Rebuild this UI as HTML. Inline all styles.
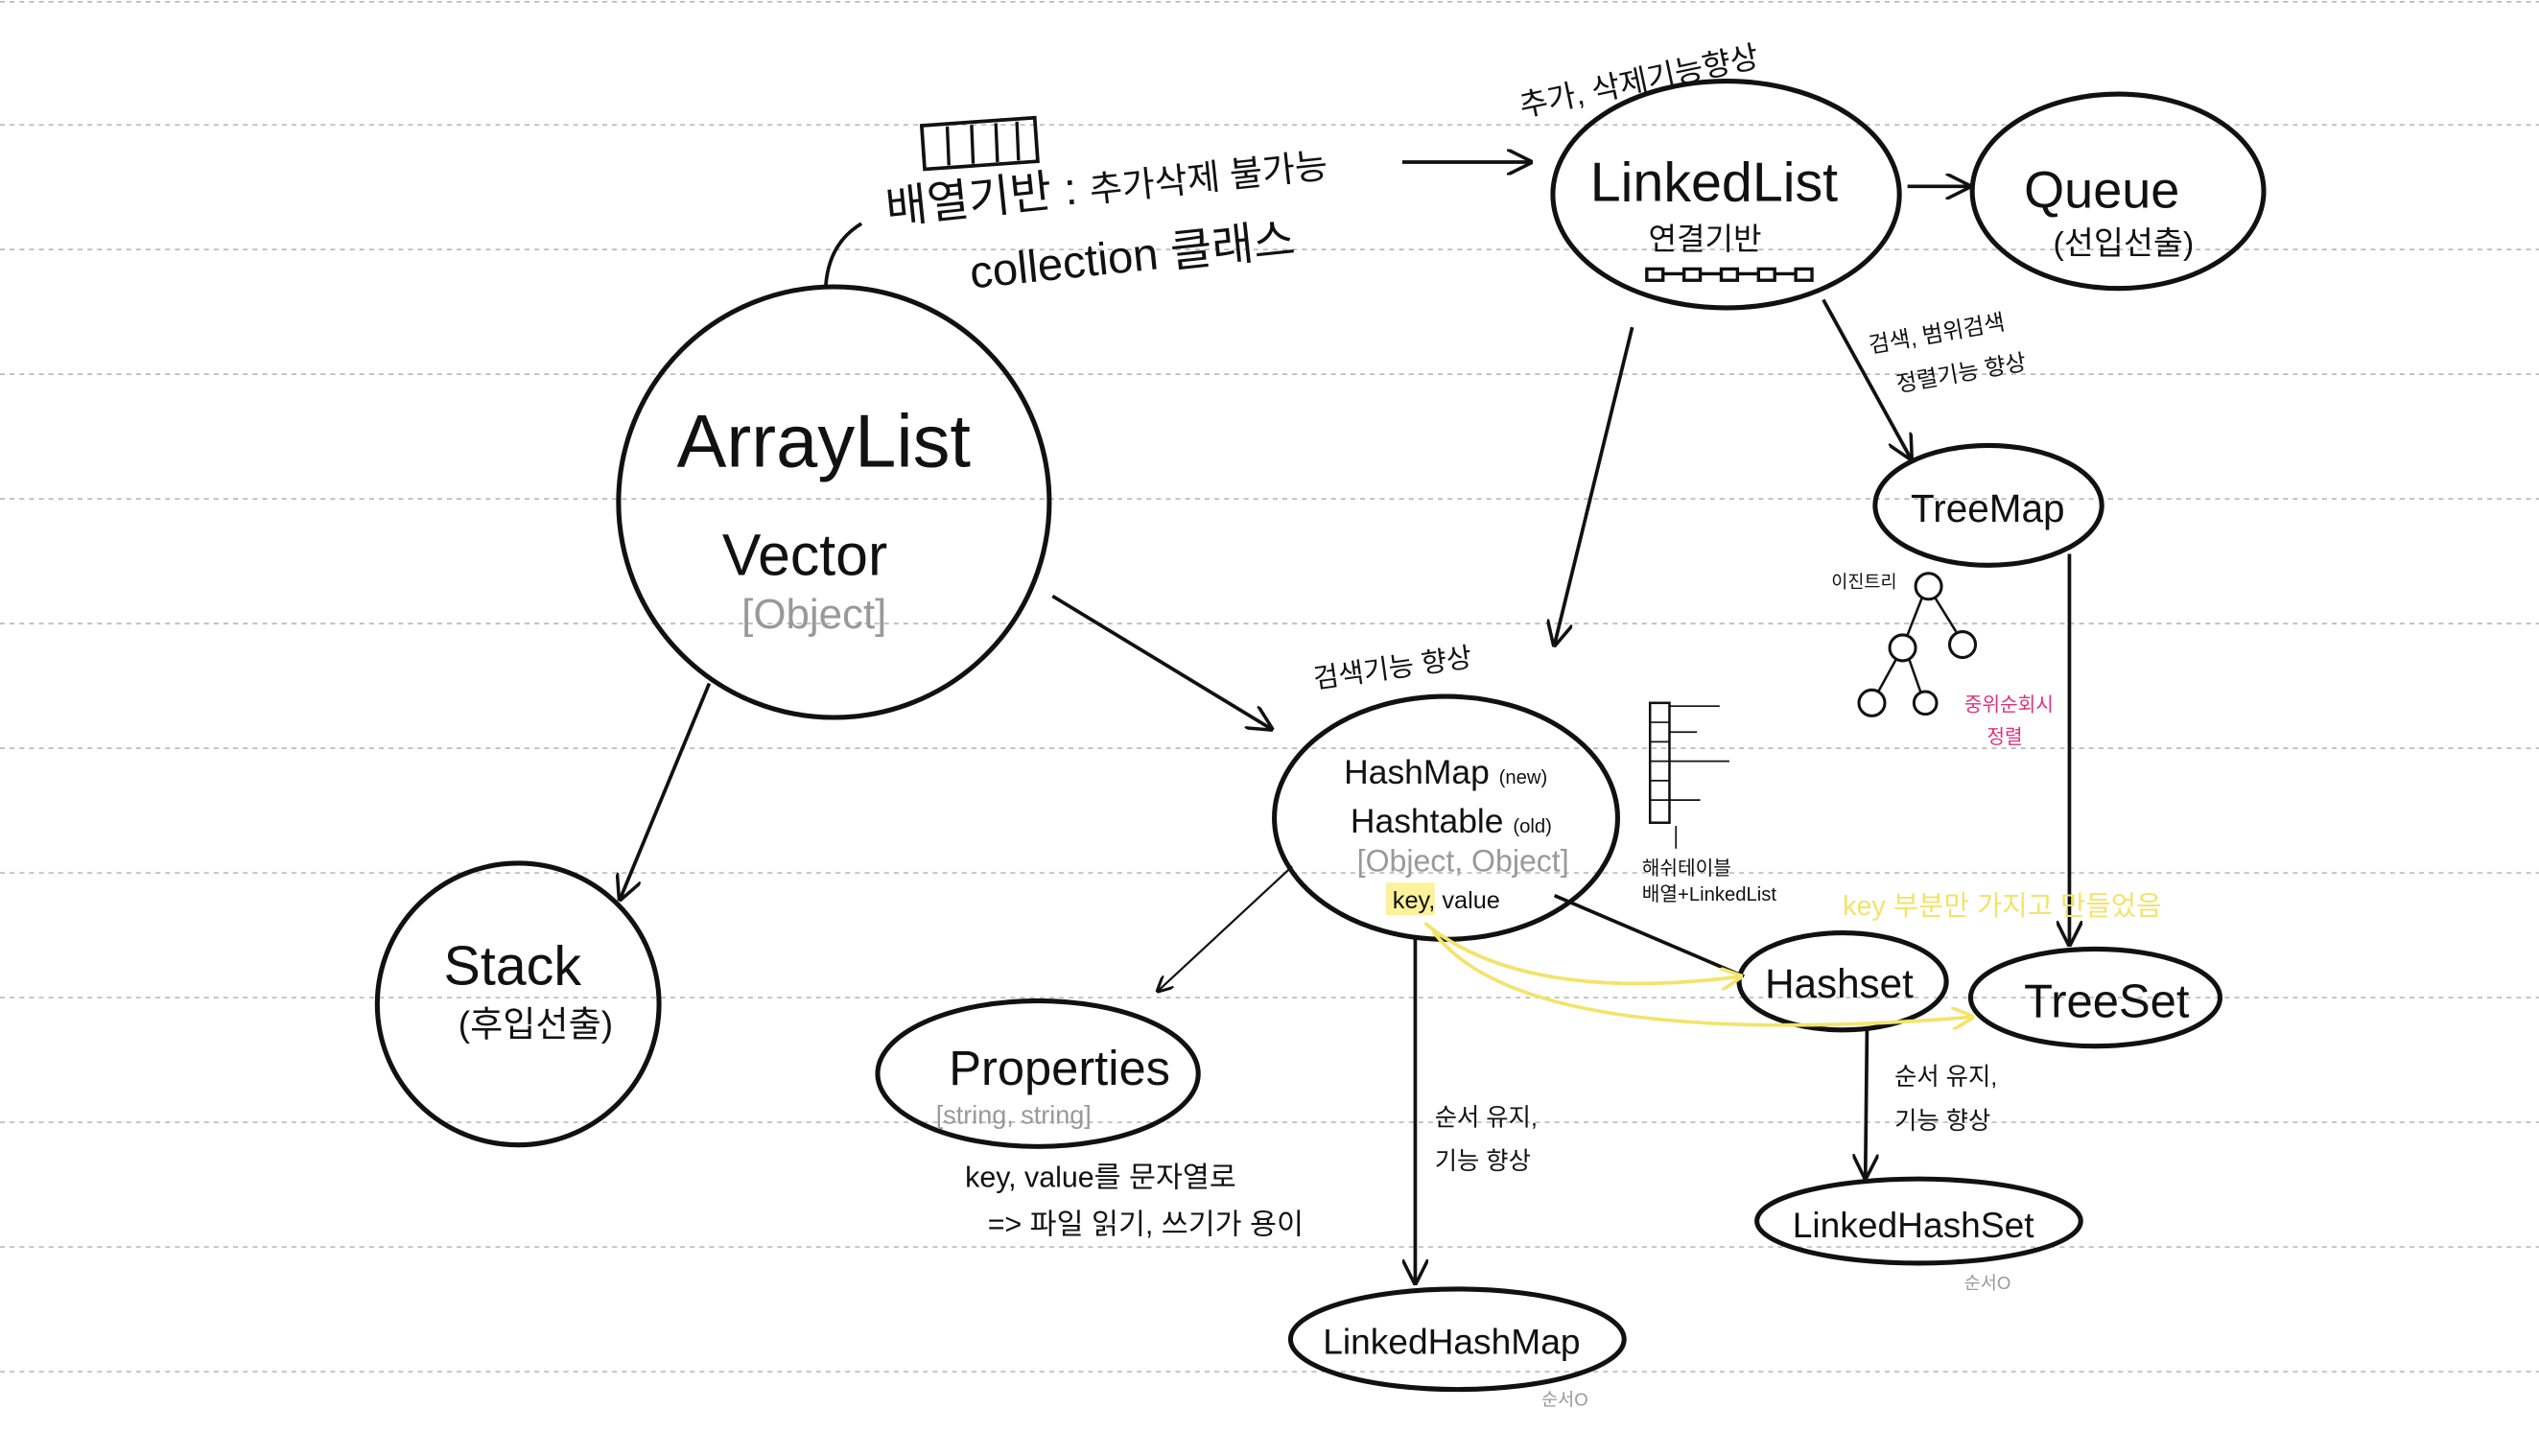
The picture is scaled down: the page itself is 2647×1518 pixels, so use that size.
<!DOCTYPE html>
<html><head><meta charset="utf-8"><style>
html,body{margin:0;padding:0;background:#fff;}
svg{display:block;}
text{font-family:"Liberation Sans","Noto Sans CJK KR",sans-serif;fill:#111;}
</style></head><body>
<svg width="2647" height="1518" viewBox="0 0 1568 899" xmlns="http://www.w3.org/2000/svg">
<defs>
<marker id="a" viewBox="0 0 10 10" refX="9" refY="5" markerWidth="10" markerHeight="10" orient="auto-start-reverse" markerUnits="userSpaceOnUse"><path d="M0,0 L10,5 L0,10" fill="none" stroke="#111" stroke-width="1.8"/></marker>
<marker id="b" viewBox="0 0 10 10" refX="9" refY="5" markerWidth="16" markerHeight="16" orient="auto" markerUnits="userSpaceOnUse"><path d="M0,0 L10,5 L0,10" fill="none" stroke="#111" stroke-width="1.3"/></marker>
<marker id="y" viewBox="0 0 10 10" refX="9" refY="5" markerWidth="14" markerHeight="14" orient="auto" markerUnits="userSpaceOnUse"><path d="M0,0 L10,5 L0,10" fill="none" stroke="#f3e36a" stroke-width="1.5"/></marker>
</defs>
<g stroke="#bbb" stroke-width="1" stroke-dasharray="3,3">
<line x1="0" y1="1" x2="1568" y2="1"/><line x1="0" y1="77" x2="1568" y2="77"/><line x1="0" y1="154" x2="1568" y2="154"/><line x1="0" y1="231" x2="1568" y2="231"/><line x1="0" y1="308" x2="1568" y2="308"/><line x1="0" y1="385" x2="1568" y2="385"/><line x1="0" y1="462" x2="1568" y2="462"/><line x1="0" y1="539" x2="1568" y2="539"/><line x1="0" y1="616" x2="1568" y2="616"/><line x1="0" y1="693" x2="1568" y2="693"/><line x1="0" y1="770" x2="1568" y2="770"/><line x1="0" y1="847" x2="1568" y2="847"/>
</g>
<g fill="none" stroke="#111" stroke-width="3">
<circle cx="515" cy="310" r="133"/>
<circle cx="320" cy="620" r="87"/>
<ellipse cx="1066" cy="120" rx="107" ry="70"/>
<ellipse cx="1308" cy="118" rx="90" ry="60"/>
<ellipse cx="1228" cy="312" rx="70" ry="37"/>
<ellipse cx="893" cy="505" rx="106" ry="75"/>
<ellipse cx="641" cy="663" rx="99" ry="45"/>
<ellipse cx="1138" cy="606" rx="64" ry="30"/>
<ellipse cx="1294" cy="616" rx="77" ry="30"/>
<ellipse cx="1185" cy="754" rx="100" ry="26"/>
<ellipse cx="900" cy="827" rx="103" ry="31"/>
</g>
<g fill="none" stroke="#111" stroke-width="2.2">
<line x1="866" y1="100" x2="945" y2="100" marker-end="url(#b)"/>
<line x1="1178" y1="115" x2="1216" y2="115" marker-end="url(#b)"/>
<line x1="1126" y1="185" x2="1180" y2="283" marker-end="url(#b)"/>
<line x1="1008" y1="202" x2="960" y2="398" marker-end="url(#b)"/>
<line x1="650" y1="368" x2="785" y2="450" marker-end="url(#b)"/>
<line x1="438" y1="422" x2="383" y2="555" marker-end="url(#b)"/>
<line x1="1278" y1="342" x2="1278" y2="583" marker-end="url(#b)"/>
<line x1="960" y1="553" x2="1077" y2="603"/>
<line x1="1153" y1="636" x2="1152" y2="727" marker-end="url(#b)"/>
<line x1="874" y1="580" x2="874" y2="792" marker-end="url(#b)"/>
<path d="M510,176 Q512,150 532,138"/>
</g>
<line x1="798" y1="535" x2="715" y2="612" stroke="#111" stroke-width="1.3" marker-end="url(#a)"/>
<g fill="none" stroke="#f3e36a" stroke-width="2.2">
<path d="M880,570 Q940,620 1075,603" marker-end="url(#y)"/>
<path d="M885,575 Q940,650 1218,628" marker-end="url(#y)"/>
</g>
<rect x="570" y="75" width="70" height="27" fill="none" stroke="#111" stroke-width="2.2" transform="rotate(-4 605 88)"/>
<g stroke="#111" stroke-width="2"><line x1="585" y1="78" x2="586" y2="102"/><line x1="600" y1="77" x2="601" y2="101"/><line x1="615" y1="76" x2="616" y2="100"/><line x1="628" y1="75" x2="629" y2="99"/></g>
<text x="548" y="138" font-size="28" transform="rotate(-6 548 138)">배열기반 : <tspan font-size="22">추가삭제 불가능</tspan></text>
<text x="600" y="178" font-size="28" transform="rotate(-6 600 178)">collection 클래스</text>
<text x="940" y="72" font-size="19" transform="rotate(-12 940 72)">추가, 삭제기능향상</text>
<text x="982" y="124" font-size="34">LinkedList</text>
<text x="1018" y="154" font-size="19">연결기반</text>
<g fill="none" stroke="#111" stroke-width="2"><rect x="1017" y="166" width="10" height="7"/><rect x="1040" y="166" width="10" height="7"/><rect x="1063" y="166" width="10" height="7"/><rect x="1086" y="166" width="10" height="7"/><rect x="1109" y="166" width="10" height="7"/><line x1="1027" y1="169" x2="1040" y2="169"/><line x1="1050" y1="169" x2="1063" y2="169"/><line x1="1073" y1="169" x2="1086" y2="169"/><line x1="1096" y1="169" x2="1109" y2="169"/></g>
<text x="1250" y="128" font-size="32">Queue</text>
<text x="1268" y="157" font-size="20">(선입선출)</text>
<text x="1155" y="218" font-size="14" transform="rotate(-10 1155 218)">검색, 범위검색</text>
<text x="1172" y="242" font-size="14" transform="rotate(-10 1172 242)">정렬기능 향상</text>
<text x="1180" y="322" font-size="24">TreeMap</text>
<text x="1131" y="363" font-size="11">이진트리</text>
<g fill="#fff" stroke="#111" stroke-width="1.8"><circle cx="1191" cy="362" r="8"/><circle cx="1175" cy="400" r="8"/><circle cx="1212" cy="398" r="8"/><circle cx="1156" cy="434" r="8"/><circle cx="1189" cy="434" r="7"/></g>
<g stroke="#111" stroke-width="1.5"><line x1="1187" y1="369" x2="1178" y2="392"/><line x1="1195" y1="369" x2="1208" y2="390"/><line x1="1171" y1="407" x2="1160" y2="427"/><line x1="1179" y1="407" x2="1186" y2="427"/></g>
<text x="1213" y="439" font-size="12" style="fill:#e0307a">중위순회시</text>
<text x="1227" y="459" font-size="12" style="fill:#e0307a">정렬</text>
<text x="418" y="288" font-size="46">ArrayList</text>
<text x="446" y="355" font-size="36">Vector</text>
<text x="458" y="388" font-size="26" style="fill:#999">[Object]</text>
<text x="274" y="608" font-size="34">Stack</text>
<text x="283" y="640" font-size="22">(후입선출)</text>
<text x="812" y="425" font-size="17" transform="rotate(-8 812 425)">검색기능 향상</text>
<text x="830" y="484" font-size="21">HashMap <tspan font-size="12">(new)</tspan></text>
<text x="834" y="514" font-size="21">Hashtable <tspan font-size="12">(old)</tspan></text>
<text x="838" y="538" font-size="19" style="fill:#999">[Object, Object]</text>
<rect x="856" y="545" width="30" height="20" fill="#fbf29a"/>
<text x="860" y="561" font-size="15">key, value</text>
<rect x="1019" y="434" width="12" height="74" fill="none" stroke="#111" stroke-width="1.5"/>
<g stroke="#111" stroke-width="1"><line x1="1019" y1="446" x2="1031" y2="446"/><line x1="1019" y1="458" x2="1031" y2="458"/><line x1="1019" y1="470" x2="1031" y2="470"/><line x1="1019" y1="482" x2="1031" y2="482"/><line x1="1019" y1="494" x2="1031" y2="494"/><line x1="1031" y1="436" x2="1062" y2="436"/><line x1="1031" y1="452" x2="1048" y2="452"/><line x1="1031" y1="470" x2="1068" y2="470"/><line x1="1031" y1="494" x2="1050" y2="494"/><line x1="1035" y1="510" x2="1035" y2="524"/></g>
<text x="1014" y="540" font-size="12">해쉬테이블</text>
<text x="1014" y="556" font-size="12">배열+LinkedList</text>
<text x="1138" y="565" font-size="17" style="fill:#f3e36a">key 부분만 가지고 만들었음</text>
<text x="1090" y="616" font-size="25">Hashset</text>
<text x="1250" y="628" font-size="29">TreeSet</text>
<text x="1170" y="670" font-size="15">순서 유지,</text>
<text x="1170" y="697" font-size="15">기능 향상</text>
<text x="1107" y="764" font-size="22">LinkedHashSet</text>
<text x="1213" y="796" font-size="11" style="fill:#999">순서O</text>
<text x="586" y="670" font-size="30">Properties</text>
<text x="578" y="694" font-size="16" style="fill:#999">[string, string]</text>
<text x="596" y="733" font-size="18">key, value를 문자열로</text>
<text x="610" y="762" font-size="18">=&gt; 파일 읽기, 쓰기가 용이</text>
<text x="886" y="695" font-size="15">순서 유지,</text>
<text x="886" y="722" font-size="15">기능 향상</text>
<text x="817" y="836" font-size="22">LinkedHashMap</text>
<text x="952" y="868" font-size="11" style="fill:#999">순서O</text>
</svg>
</body></html>
